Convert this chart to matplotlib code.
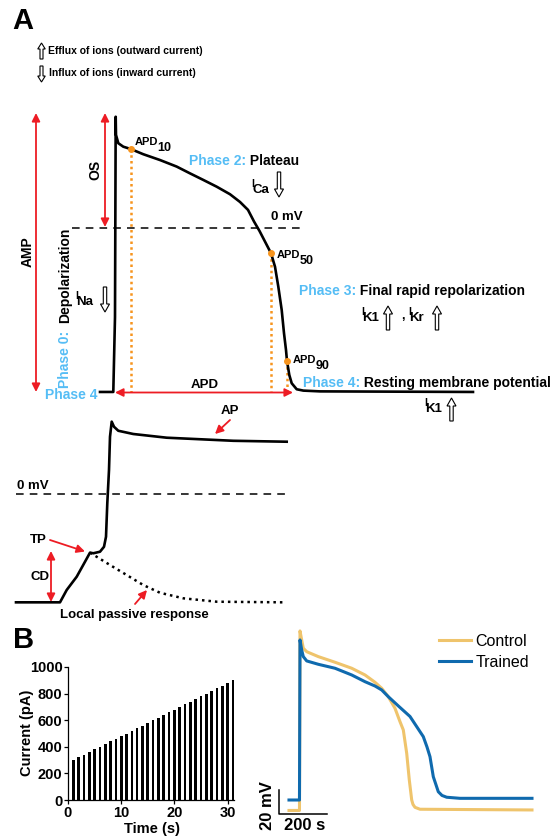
import matplotlib
matplotlib.use('Agg')
import matplotlib.pyplot as plt
from matplotlib.patches import FancyArrow

plt.rcParams['font.family'] = 'Liberation Sans'

# ---- data ----
# panel A, cardiac action potential (ms, mV)
ap_t = [-30, -3.4, 0, 1.4, 2, 6.6, 16.6, 31.4, 56.6, 90, 123.4, 150, 176.6, 203.4,
        230, 250, 266, 278, 289, 303.4, 312, 320, 326.6, 333.4, 338, 342, 344, 348.6,
        353.4, 363.4, 376.6, 410, 716]
ap_v = [-85.0, -85.0, -46.2, 57.4, 48.0, 43.7, 41.9, 40.7, 38.0, 35.0, 31.6, 28.1,
        24.7, 21.2, 17.3, 13.3, 9.2, 3.2, -1.7, -8.9, -13.2, -20.2, -30.5, -42.6,
        -54.6, -63.3, -69.0, -76.2, -80.5, -83.6, -84.3, -84.7, -85.0]
apd_names = ['10', '50', '90']
apd_t = [31.4, 312, 344]
apd_v = [40.7, -13.2, -69.0]
rest_v = -85.0

# panel A, threshold schematic (ms, mV)
lo_t = [-44, 0, 6.7, 16.7, 25, 30, 33.3, 40, 44, 46, 47.3, 49, 50, 51.7, 54, 58.3,
        73.3, 106.7, 140, 173.3, 226.7]
lo_v = [-70.2, -70.2, -62.2, -53.6, -43.9, -38.0, -38.4, -37.4, -34.2, -27.7, -6.0,
        15.6, 37.1, 46.9, 43.6, 41.0, 38.9, 36.5, 35.5, 34.5, 33.9]
pas_t = [30, 50, 66.7, 83.3, 100, 123.3, 156.7, 223.3]
pas_v = [-38.0, -46.0, -52.5, -59.0, -64.0, -67.6, -69.8, -70.2]

# panel B, stimulation ramp
stim_time = [1, 2, 3, 4, 5, 6, 7, 8, 9, 10, 11, 12, 13, 14, 15, 16, 17, 18, 19, 20,
             21, 22, 23, 24, 25, 26, 27, 28, 29, 30, 31]
stim_current = [300, 320, 340, 360, 380, 400, 420, 440, 460, 480, 500, 520, 540, 560,
                580, 600, 620, 640, 660, 680, 700, 720, 740, 760, 780, 800, 820, 840,
                860, 880, 900]

# panel B, recorded APs
ctrl_t = [-41.7, 2, 4.2, 11.2, 17.9, 32.1, 80.4, 150, 219.6, 275, 316.7, 344.6, 372.1,
          400, 420.8, 434.6, 448.8, 459.6, 469.6, 475, 483.3, 504.2, 970.8]
ctrl_v = [-85.4, -85.4, 64.2, 56.7, 49.8, 46.9, 42.8, 38.1, 33.1, 27.5, 21.4, 16.4, 9.4,
          -0.3, -11.4, -18.3, -37.8, -60, -76.7, -80.4, -82.8, -84.4, -85]
trn_t = [-41.7, 2, 4.2, 11.2, 17.9, 32.1, 80.4, 150, 219.6, 275, 316.7, 344.6, 372.1,
         413.8, 462.5, 517.9, 533.3, 545.8, 559.6, 580.4, 595.8, 615.4, 670.8, 970.8]
trn_v = [-76.7, -76.7, 56.7, 48.3, 42.8, 39.2, 36.4, 33.1, 27.5, 21.9, 18.3, 15.0, 9.4,
         1.7, -7.1, -23.9, -32.5, -40.6, -57.3, -69.8, -72.9, -74.4, -75.3, -75.3]

RED = '#ed1c24'
ORANGE = '#f7941d'
SKY = '#55bdf5'
CTRL = '#efc46c'
TRN = '#0f6aae'

fig = plt.figure(figsize=(5.6, 8.39), dpi=100)


def full_axes(xlim, ylim):
    ax = fig.add_axes([0, 0, 1, 1], facecolor='none')
    ax.set_xlim(*xlim)
    ax.set_ylim(*ylim)
    ax.axis('off')
    return ax


# top action potential
ax_ap = full_axes((-230, 890), (-316.3, 117.8))
ax_ap.plot([-86, 372], [0, 0], color='black', lw=1.1, ls=(0, (5, 4)))
for t, v in zip(apd_t, apd_v):
    ax_ap.plot([t, t], [v, rest_v], color=ORANGE, lw=1.8, ls=(0, (1, 1.3)))
ax_ap.plot(ap_t, ap_v, color='black', lw=1.9, solid_joinstyle='round')
ax_ap.plot(apd_t, apd_v, 'o', color=ORANGE, ms=4, zorder=5)

# threshold schematic
ax_lo = full_axes((-60, 500), (-223.6, 320.2))
ax_lo.plot([-44, 227], [0, 0], color='black', lw=1.1, ls=(0, (5, 4)))
ax_lo.plot(pas_t, pas_v, color='black', lw=1.8, ls=(0, (1, 1.6)))
ax_lo.plot(lo_t, lo_v, color='black', lw=1.9, solid_joinstyle='round')

# recorded traces
ax_tr = full_axes((-1245.8, 1087.5), (-109.2, 590))
ax_tr.plot(ctrl_t, ctrl_v, color=CTRL, lw=2.2, label='Control', solid_joinstyle='round')
ax_tr.plot(trn_t, trn_v, color=TRN, lw=2.2, label='Trained', solid_joinstyle='round')
ax_tr.plot([-83.3, -83.3, 116.7], [-68.3, -88.3, -88.3], color='black', lw=1.1)
ax_tr.legend(loc='upper left', bbox_to_anchor=(439 / 560, 1 - 634 / 839),
             bbox_transform=fig.transFigure, frameon=False, fontsize=11.5,
             handlelength=2.0, handletextpad=0.3, labelspacing=0.38,
             borderpad=0, borderaxespad=0)

# stimulation bar chart
ax_b = fig.add_axes([68 / 560, 39 / 839, 166 / 560, 133 / 839])
ax_b.bar(stim_time, stim_current, width=0.5, color='black')
ax_b.set_xlim(0, 31.2)
ax_b.set_ylim(0, 1000)
ax_b.set_xticks([0, 10, 20, 30])
ax_b.set_yticks([0, 200, 400, 600, 800, 1000])
for s in ['top', 'right']:
    ax_b.spines[s].set_visible(False)
for s in ['left', 'bottom']:
    ax_b.spines[s].set_linewidth(0.9)
ax_b.tick_params(length=3, width=0.9, labelsize=10.5, pad=1)
for lab in ax_b.get_xticklabels() + ax_b.get_yticklabels():
    lab.set_fontweight('bold')

# overlay in pixel units for labels and annotations
ov = full_axes((0, 560), (839, 0))
r = fig.canvas.get_renderer()
FS = 10


def seq(x, y, parts, size=FS):
    for s, color, dx, dy, sz in parts:
        x += dx
        t = ov.text(x, y + dy, s, color=color, fontsize=sz or size,
                    fontweight='bold', va='center', ha='left')
        x += t.get_window_extent(r).width


def cur(x, y, sub):
    seq(x, y, [('I', 'black', 0, -3, 7.5), (sub, 'black', -1.5, 3, 9.5)])


def hollow(x, y0, y1, w=3.4, hw=9, hl=8):
    ov.add_patch(FancyArrow(x, y0, 0, y1 - y0, width=w, head_width=hw,
                            head_length=hl, length_includes_head=True,
                            fc='white', ec='black', lw=0.8, zorder=6))


def red_arrow(p0, p1, both=False):
    ov.annotate('', xy=p1, xytext=p0,
                arrowprops=dict(arrowstyle='<|-|>' if both else '-|>', color=RED,
                                lw=1.3, mutation_scale=12, shrinkA=0, shrinkB=0))


ov.text(12, 21, 'A', fontsize=21, fontweight='bold', va='center')
ov.text(13, 640, 'B', fontsize=21, fontweight='bold', va='center')

hollow(41.5, 59, 43, w=3, hw=7.5, hl=6)
hollow(41.5, 66, 82, w=3, hw=7.5, hl=6)
ov.text(48, 51, 'Efflux of ions (outward current)', fontsize=7.5, fontweight='bold', va='center')
ov.text(49, 73, 'Influx of ions (inward current)', fontsize=7.5, fontweight='bold', va='center')

seq(189, 161, [('Phase 2:', SKY, 0, 0, None), (' Plateau', 'black', 0, 0, None)])
cur(251, 187, 'Ca')
hollow(279, 172, 197)
ov.text(271, 217, '0 mV', fontsize=9.5, fontweight='bold', va='center')

for nm, x, y in zip(apd_names, [135, 277, 293], [142, 255, 360]):
    seq(x, y, [('APD', 'black', 0, 0, 8), (nm, 'black', -1, 6, 9)])

seq(299, 291, [('Phase 3:', SKY, 0, 0, None), (' Final rapid repolarization', 'black', 0, 0, None)])
cur(361, 315, 'K1')
hollow(388, 330, 306)
ov.text(401, 316, ',', fontsize=9, fontweight='bold', va='center')
cur(408, 315, 'Kr')
hollow(437, 330, 306)

seq(303, 383, [('Phase 4:', SKY, 0, 0, None), (' Resting membrane potential', 'black', 0, 0, None)])
cur(424, 406, 'K1')
hollow(451.5, 421, 398)

ov.text(65, 388, 'Phase 0:', color=SKY, fontsize=FS, fontweight='bold',
        rotation=90, ha='center', va='bottom')
ov.text(65, 323, 'Depolarization', fontsize=FS, fontweight='bold',
        rotation=90, ha='center', va='bottom')
cur(75, 299, 'Na')
hollow(105, 287, 312)
ov.text(45, 395, 'Phase 4', color=SKY, fontsize=FS, fontweight='bold', va='center')

red_arrow((36, 113), (36, 392), both=True)
ov.text(28, 252, 'AMP', fontsize=FS, fontweight='bold', rotation=90, ha='center', va='center')
red_arrow((105, 113), (105, 227), both=True)
ov.text(95, 170, 'OS', fontsize=FS, fontweight='bold', rotation=90, ha='center', va='center')
red_arrow((115, 392.5), (293, 392.5), both=True)
ov.text(205, 385, 'APD', fontsize=9.5, fontweight='bold', ha='center', va='center')

ov.text(17, 486, '0 mV', fontsize=9.5, fontweight='bold', va='center')
ov.text(230, 411, 'AP', fontsize=9.5, fontweight='bold', ha='center', va='center')
red_arrow((230, 420), (215, 434))
ov.text(38, 540, 'TP', fontsize=9.5, fontweight='bold', ha='center', va='center')
red_arrow((50, 540), (85, 551.5))
ov.text(40, 577, 'CD', fontsize=9.5, fontweight='bold', ha='center', va='center')
red_arrow((51, 551), (51, 602), both=True)
ov.text(60, 615, 'Local passive response', fontsize=9.5, fontweight='bold', va='center')
red_arrow((135, 604), (147, 590))

ov.text(27, 733, 'Current (pA)', fontsize=10.5, fontweight='bold', rotation=90,
        ha='center', va='center')
ov.text(152, 829, 'Time (s)', fontsize=10.5, fontweight='bold', ha='center', va='center')
ov.text(267, 806, '20 mV', fontsize=12, fontweight='bold', rotation=90, ha='center', va='center')
ov.text(305, 826, '200 s', fontsize=12, fontweight='bold', ha='center', va='center')

fig.savefig('out.png', dpi=100)
